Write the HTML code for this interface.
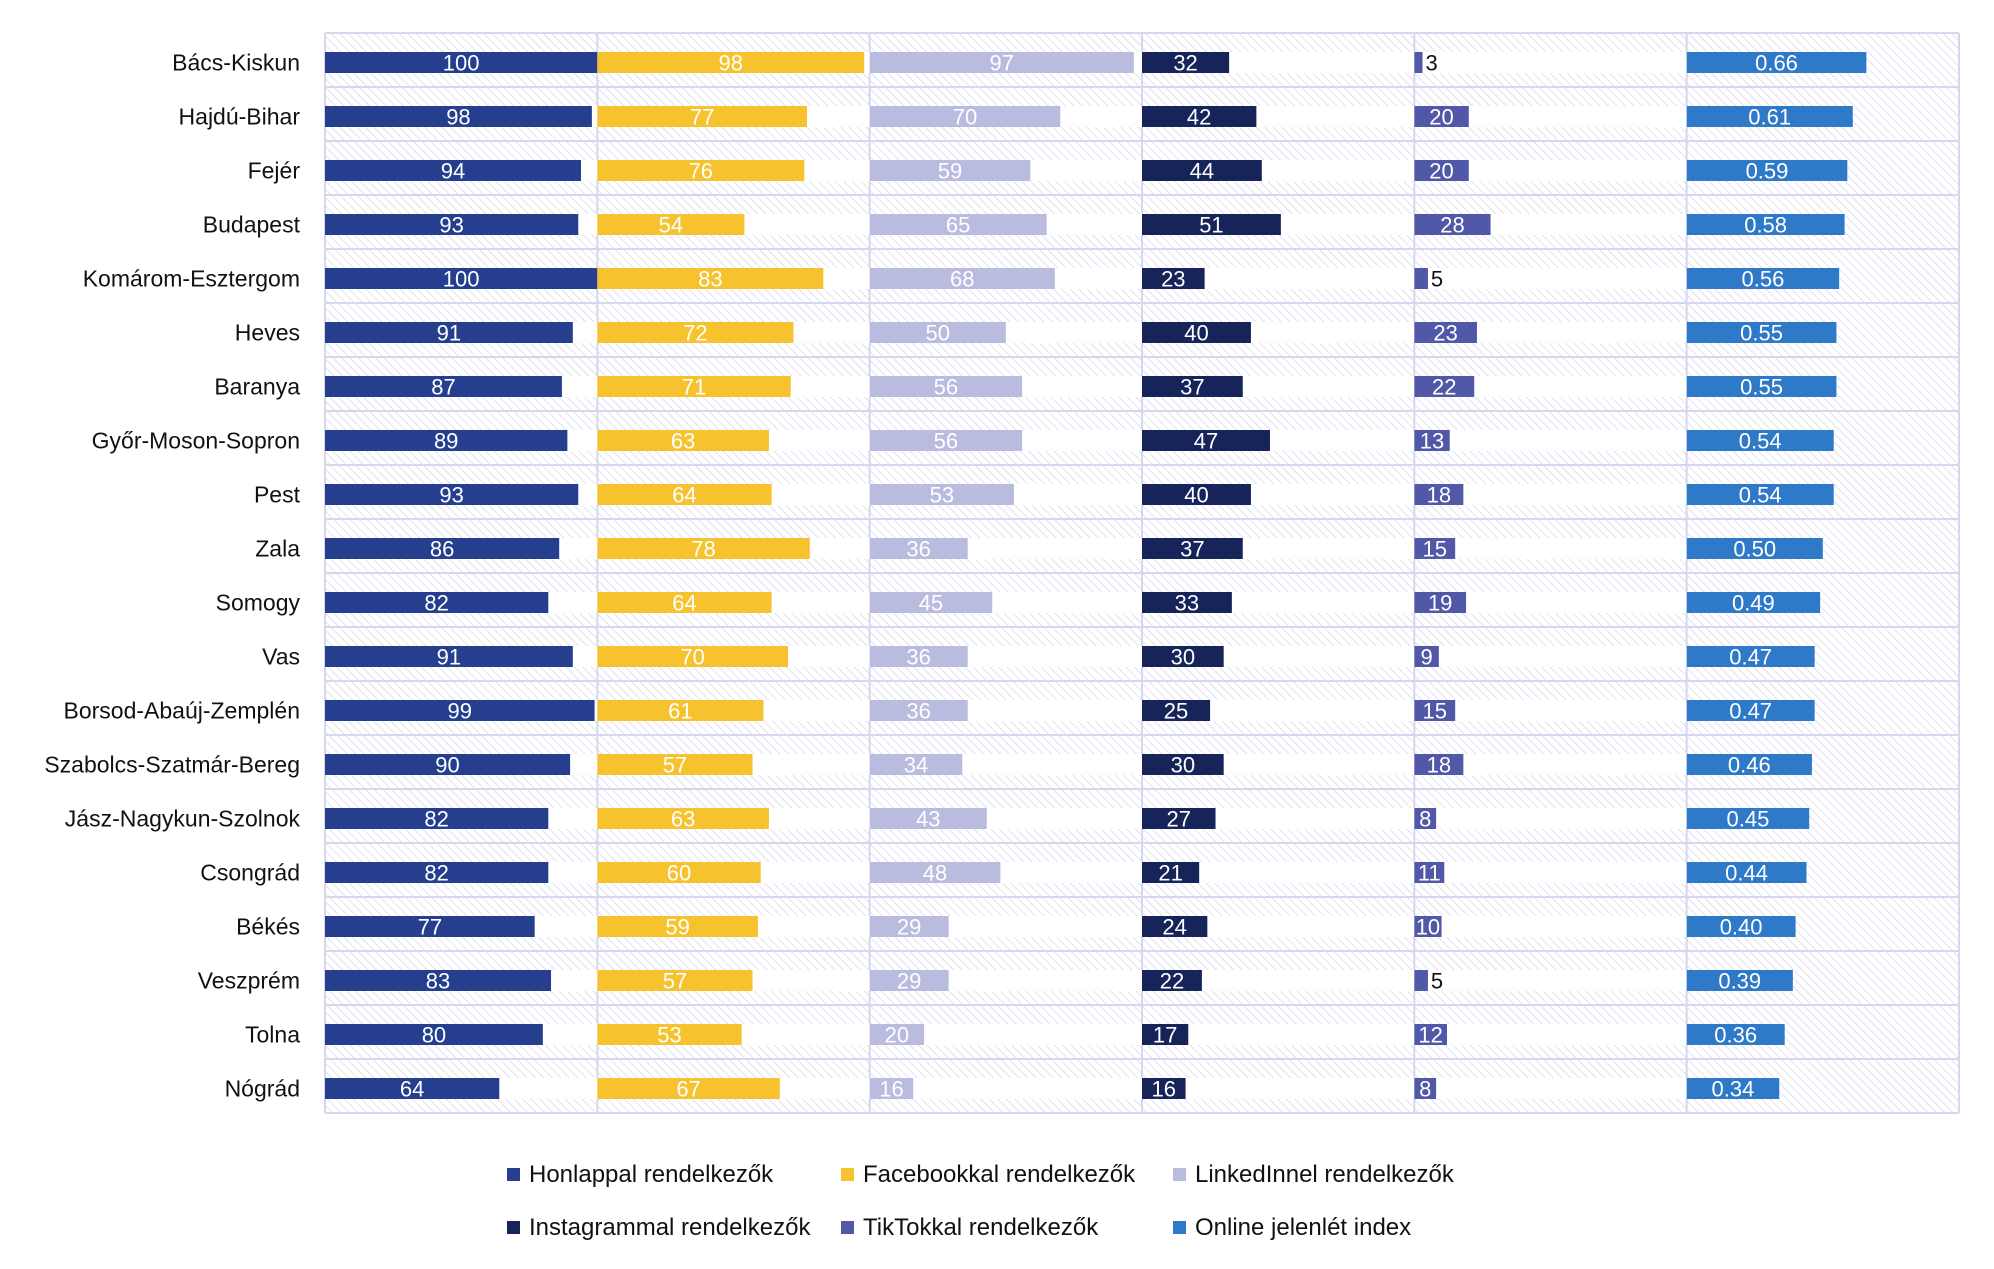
<!DOCTYPE html>
<html><head><meta charset="utf-8"><style>
html,body{margin:0;padding:0;background:#fff;}
svg{display:block;font-family:"Liberation Sans",sans-serif;}
</style></head><body>
<svg id="chart" width="1994" height="1269" viewBox="0 0 1994 1269" xmlns="http://www.w3.org/2000/svg">
<defs>
<pattern id="hatch" width="6" height="6" patternUnits="userSpaceOnUse" patternTransform="rotate(-45)">
<line x1="0" y1="0" x2="0" y2="6" stroke="#d6d6ee" stroke-width="1.5"/>
</pattern>
</defs>
<rect x="325" y="33" width="1634" height="1080" fill="url(#hatch)"/>
<g id="grid"></g>
<g id="bars"></g>
<g id="labels"></g>
<g id="legend"></g>
</svg>
<script>
const categories = ["Bács-Kiskun","Hajdú-Bihar","Fejér","Budapest","Komárom-Esztergom","Heves","Baranya","Győr-Moson-Sopron","Pest","Zala","Somogy","Vas","Borsod-Abaúj-Zemplén","Szabolcs-Szatmár-Bereg","Jász-Nagykun-Szolnok","Csongrád","Békés","Veszprém","Tolna","Nógrád"];
const honlap = [100,98,94,93,100,91,87,89,93,86,82,91,99,90,82,82,77,83,80,64];
const facebook = [98,77,76,54,83,72,71,63,64,78,64,70,61,57,63,60,59,57,53,67];
const linkedin = [97,70,59,65,68,50,56,56,53,36,45,36,36,34,43,48,29,29,20,16];
const instagram = [32,42,44,51,23,40,37,47,40,37,33,30,25,30,27,21,24,22,17,16];
const tiktok = [3,20,20,28,5,23,22,13,18,15,19,9,15,18,8,11,10,5,12,8];
const indexVals = [0.66,0.61,0.59,0.58,0.56,0.55,0.55,0.54,0.54,0.50,0.49,0.47,0.47,0.46,0.45,0.44,0.40,0.39,0.36,0.34];
const seriesNames = ["Honlappal rendelkezők","Facebookkal rendelkezők","LinkedInnel rendelkezők","Instagrammal rendelkezők","TikTokkal rendelkezők","Online jelenlét index"];
const seriesMax = [100,100,100,100,100,1];

const NS="http://www.w3.org/2000/svg";
const svg=document.getElementById('chart');
const gGrid=document.getElementById('grid'), gBars=document.getElementById('bars'), gLab=document.getElementById('labels'), gLeg=document.getElementById('legend');
const colors=["#253f8e","#f6c22d","#b9bcdf","#17245a","#5058a7","#2f79c9"];
const slugs=["honlap","facebook","linkedin","instagram","tiktok","index"];
const series=[honlap,facebook,linkedin,instagram,tiktok,indexVals];
const L=325,T=33,colW=272.33,rowH=54,barH=21;
function x(col,v){return L+col*colW+(v/seriesMax[col])*colW;}
function yc(i){return T+i*rowH+rowH/2+2.5;}
function el(tag,attrs,parent){const e=document.createElementNS(NS,tag);for(const k in attrs)e.setAttribute(k,attrs[k]);parent.appendChild(e);return e;}

categories.forEach((c,i)=>{
  for(let s=0;s<5;s++){
    const r=el('rect',{x:L+s*colW,y:yc(i)-barH/2,width:colW,height:barH,fill:'#fff'},gBars);
    
    
  }
});
for(let i=0;i<=20;i++){
  const ln=el('line',{x1:L,x2:L+6*colW,y1:T+i*rowH,y2:T+i*rowH,stroke:'#d6d6ef','stroke-width':2},gGrid);
  
  
}
for(let c=0;c<=6;c++){
  const ln=el('line',{x1:L+c*colW,x2:L+c*colW,y1:T,y2:T+20*rowH,stroke:'#d6d6ef','stroke-width':2},gGrid);
  
  
}
svg.appendChild(gBars);svg.appendChild(gLab);svg.appendChild(gLeg);

categories.forEach((c,i)=>{
  const t=el('text',{x:300,y:yc(i)+8,'text-anchor':'end','font-size':23,fill:'#111'},gLab);
  t.textContent=c;
  
  
  series.forEach((arr,s)=>{
    const v=arr[i];const x0=L+s*colW;const x1=x(s,v);const w=x1-x0;
    const r=el('rect',{x:x0,y:yc(i)-barH/2,width:w,height:barH,fill:colors[s]},gBars);
    
    
    const txt=s===5?v.toFixed(2):String(v);
    let lt;
    if(w<16){
      lt=el('text',{x:x1+3,y:yc(i)+8,'font-size':22,fill:'#111'},gLab);
    }else{
      lt=el('text',{x:x0+w/2,y:yc(i)+8,'text-anchor':'middle','font-size':22,fill:'#fff'},gLab);
    }
    lt.textContent=txt;
    
    
  });
});

const legPos=[[507,1174],[841,1174],[1173,1174],[507,1227],[841,1227],[1173,1227]];
seriesNames.forEach((n,s)=>{
  const g=el('g',{},gLeg);
  
  
  const [lx,ly]=legPos[s];
  el('rect',{x:lx,y:ly-6,width:13,height:13,fill:colors[s]},g);
  const t=el('text',{x:lx+22,y:ly+8,'font-size':24,fill:'#111'},g);
  t.textContent=n;
});
</script>
</body></html>
